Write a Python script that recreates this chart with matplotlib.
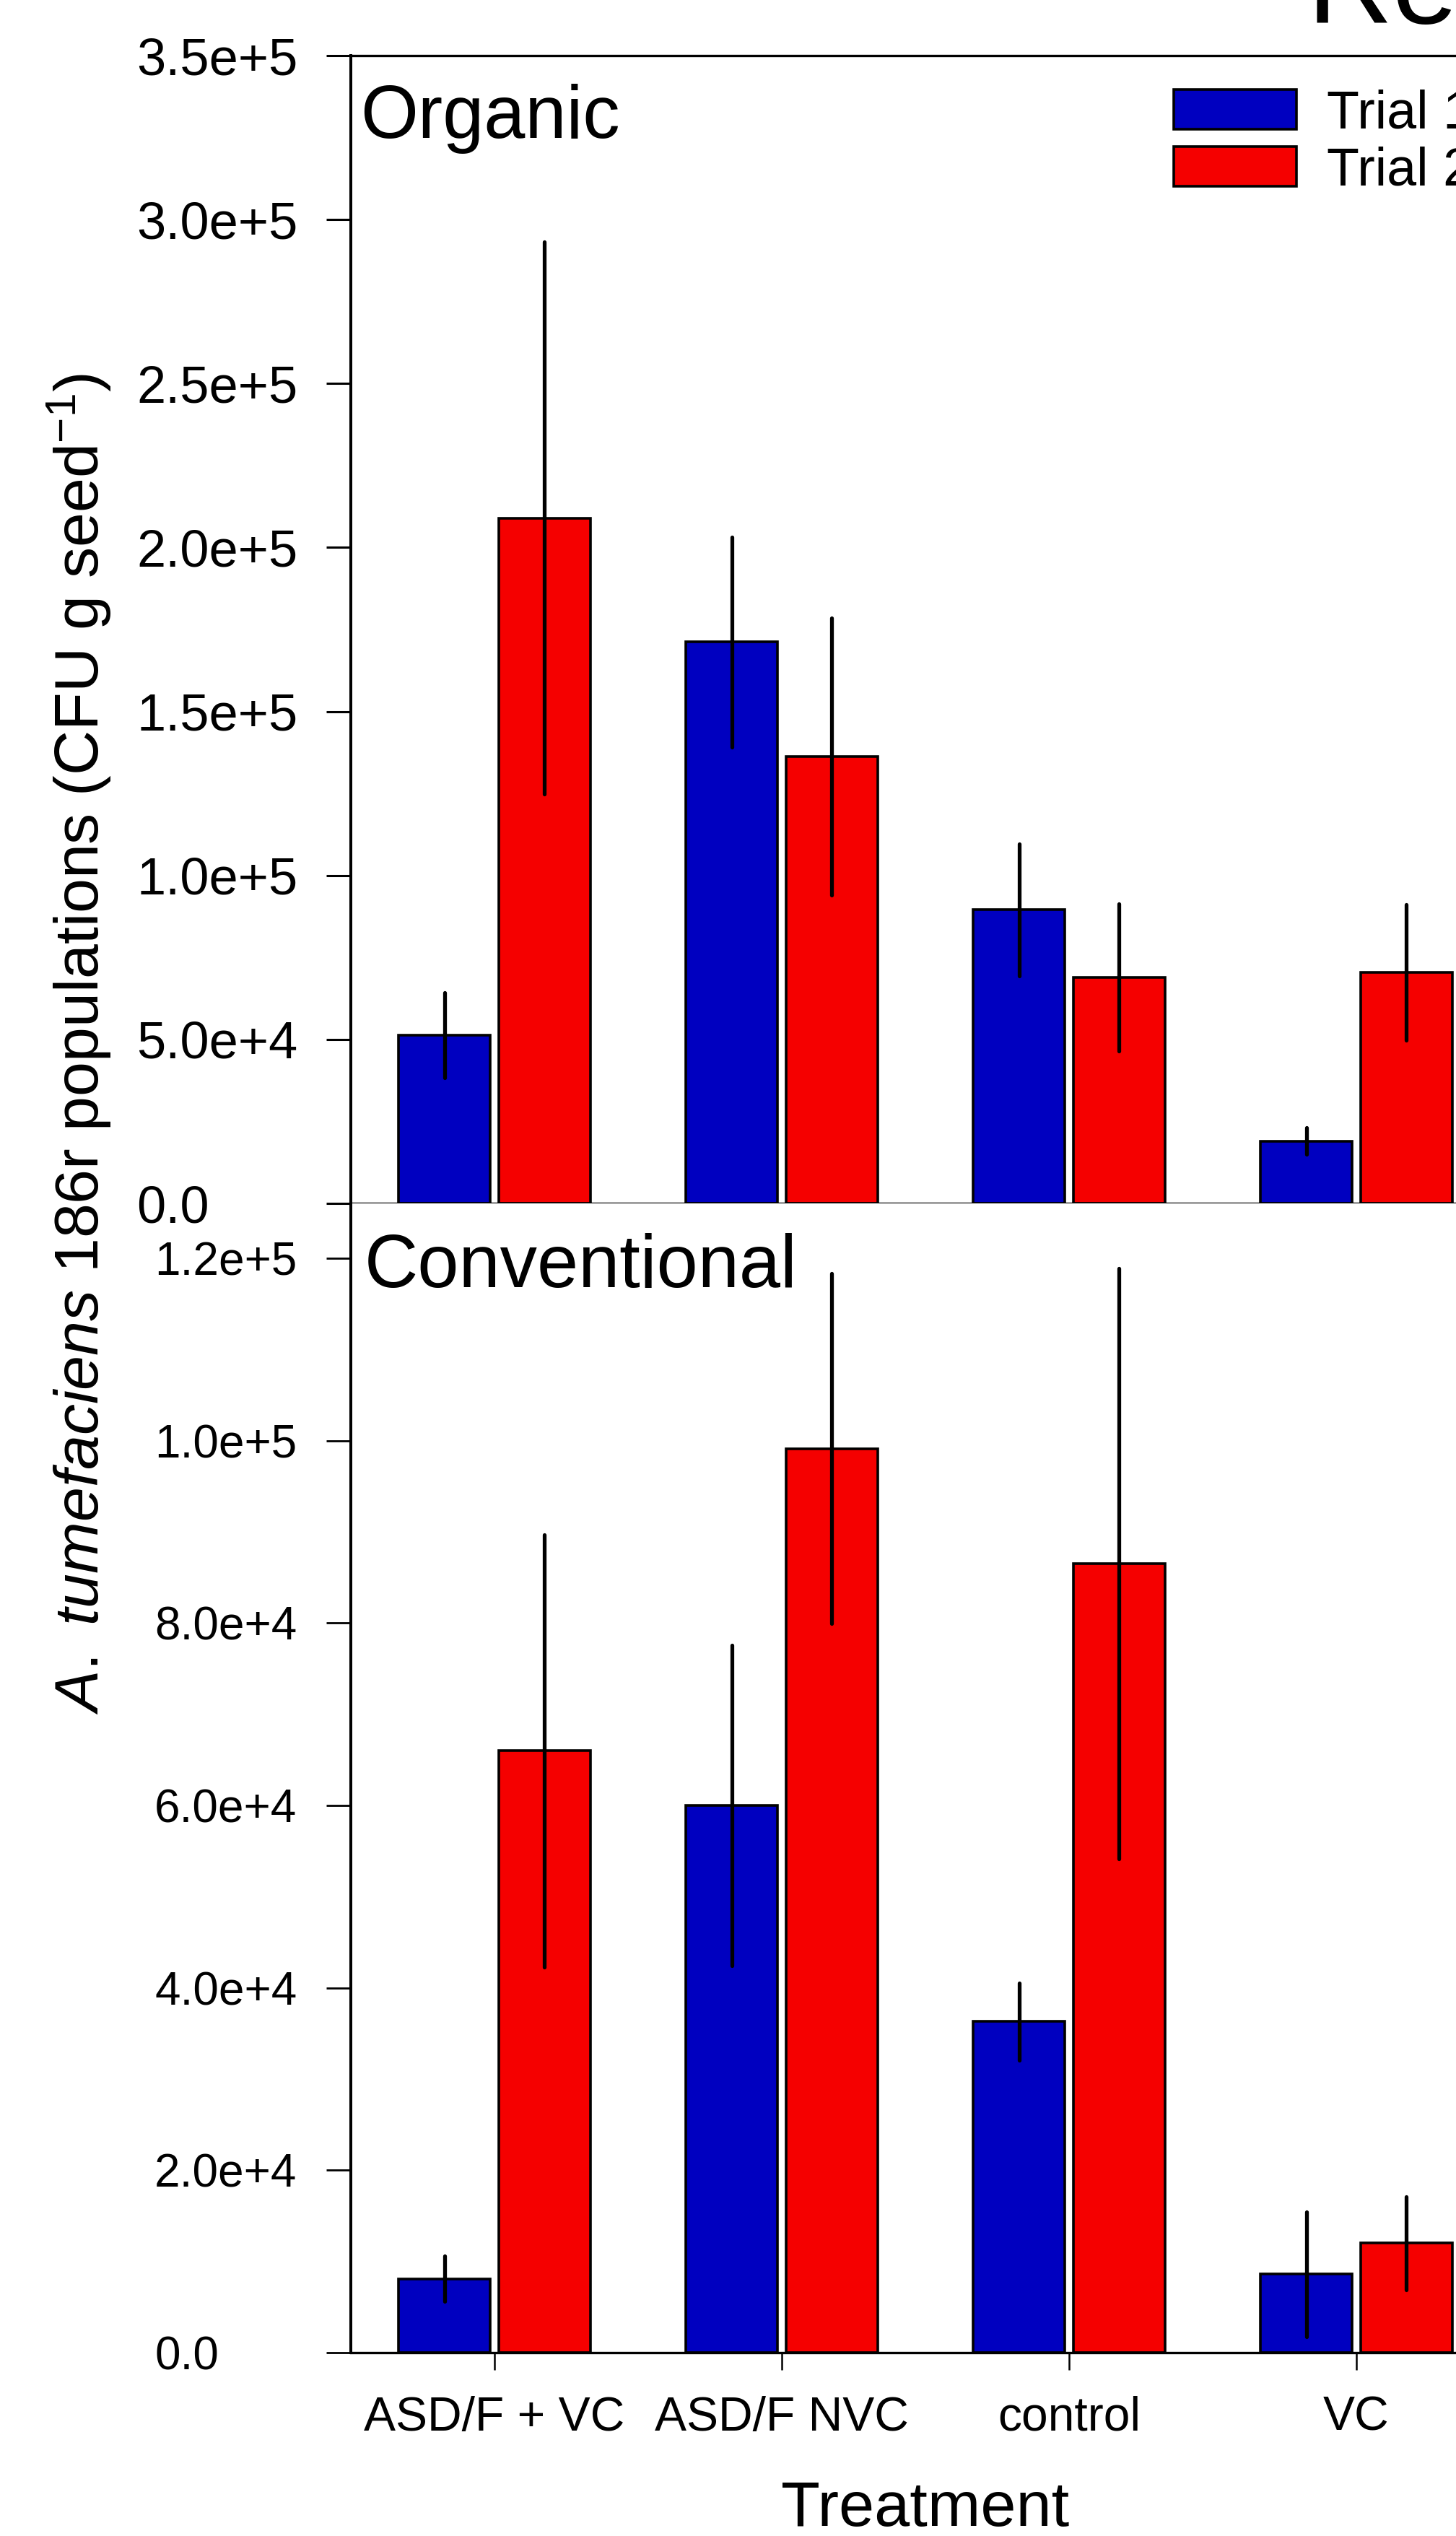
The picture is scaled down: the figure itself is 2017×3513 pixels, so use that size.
import matplotlib
matplotlib.use('Agg')
import matplotlib.pyplot as plt
import numpy as np

plt.rcParams['font.family'] = ['Liberation Sans', 'DejaVu Sans']
plt.rcParams['mathtext.fontset'] = 'custom'
plt.rcParams['mathtext.rm'] = 'Liberation Sans'
plt.rcParams['mathtext.it'] = 'Liberation Sans:italic'
plt.rcParams['mathtext.bf'] = 'Liberation Sans:bold'

# ---------------- data ----------------
treatments = ['ASD/F + VC', 'ASD/F NVC', 'control', 'VC']
series_names = ['Trial 1', 'Trial 2']

organic_trial1 = [51200, 171200, 89500, 19000]
organic_trial1_err = [13000, 32000, 20200, 4100]
organic_trial2 = [209000, 136300, 68900, 70500]
organic_trial2_err = [84100, 42300, 22400, 20700]

conv_trial1 = [8100, 60000, 36300, 8600]
conv_trial1_err = [2500, 17600, 4250, 6850]
conv_trial2 = [66000, 99100, 86500, 12000]
conv_trial2_err = [23700, 19200, 32400, 5100]

organic_ticks = [0, 5e4, 1e5, 1.5e5, 2e5, 2.5e5, 3e5, 3.5e5]
organic_ticklabels = ['0.0', '5.0e+4', '1.0e+5', '1.5e+5', '2.0e+5', '2.5e+5', '3.0e+5', '3.5e+5']
conv_ticks = [0, 2e4, 4e4, 6e4, 8e4, 1e5, 1.2e5]
conv_ticklabels = ['0.0', '2.0e+4', '4.0e+4', '6.0e+4', '8.0e+4', '1.0e+5', '1.2e+5']

# ---------------- layout ----------------
W, H = 2017, 3513
dpi = 100
fig = plt.figure(figsize=(W / dpi, H / dpi), dpi=dpi)


def fx(px):
    return px / W


def fy(py):
    return 1 - py / H


left = fx(486)
width = (2078 - 486) / W
ax1 = fig.add_axes([left, fy(1667), width, (1667 - 77) / H])
ax2 = fig.add_axes([left, fy(3259), width, (3259 - 1667) / H])

x = np.arange(len(treatments))
bw = 0.318
off = 0.174
blue = '#0000C0'
red = '#F50000'

panels = [
    (ax1, organic_trial1, organic_trial1_err, organic_trial2, organic_trial2_err),
    (ax2, conv_trial1, conv_trial1_err, conv_trial2, conv_trial2_err),
]
handles = None
for ax, t1, e1, t2, e2 in panels:
    ekw = dict(ecolor='black', elinewidth=3.8, capsize=0)
    b1 = ax.bar(x - off, t1, bw, yerr=e1, color=blue, edgecolor='black',
                linewidth=2.6, error_kw=ekw, label=series_names[0], zorder=2)
    b2 = ax.bar(x + off, t2, bw, yerr=e2, color=red, edgecolor='black',
                linewidth=2.6, error_kw=ekw, label=series_names[1], zorder=2)
    for b in (b1, b2):
        for lc in b.errorbar.lines[2]:
            lc.set_capstyle('round')
            lc.set_zorder(3)
    if handles is None:
        handles = [b1, b2]
    ax.set_xlim(-0.5, 3.5)
    for s in ax.spines.values():
        s.set_linewidth(2.4)
    ax.spines['left'].set_linewidth(2.9)

ax1.set_ylim(0, 3.5e5)
ax1.set_yticks(organic_ticks)
ax1.set_yticklabels(organic_ticklabels, fontsize=52, ha='left')
ax1.tick_params(axis='y', direction='out', length=24.5, width=2.2, pad=189.3)
ax1.tick_params(axis='x', bottom=False, labelbottom=False)

ax2.set_ylim(0, 1.26e5)
ax2.set_yticks(conv_ticks)
ax2.set_yticklabels(conv_ticklabels, fontsize=46, ha='left')
ax2.tick_params(axis='y', direction='out', length=24.5, width=2.0, pad=171.3)
ax2.set_xticks(x)
ax2.set_xticklabels(treatments, fontsize=47.5)
ax2.tick_params(axis='x', direction='out', length=17, width=1.8, pad=26)
ax2.spines['top'].set_visible(False)
ax2.set_xlabel('Treatment', fontsize=63.5, labelpad=40)

# panel labels
fig.text(fx(499), fy(191), 'Organic', fontsize=74, va='baseline', ha='left')
fig.text(fx(505), fy(1783), 'Conventional', fontsize=74, va='baseline', ha='left')

# title (cut off at the right edge in the original)
fig.text(fx(1810), fy(32), 'Re', fontsize=118, va='baseline', ha='left')

# y label
fig.text(fx(110), fy(1446),
         r'$\mathit{A.\ tumefaciens}$ 186r populations (CFU g seed$^{-1}$)',
         rotation=90, fontsize=62, ha='center', va='center')

# legend
leg = ax1.legend(handles=handles, loc='upper left',
                 bbox_to_anchor=(fx(1626), fy(123)), bbox_transform=fig.transFigure,
                 frameon=False, fontsize=53, handlelength=2.31, handleheight=0.77,
                 handletextpad=0.57, labelspacing=0.136, borderpad=0, borderaxespad=0)
for p in leg.get_patches():
    p.set_linewidth(2.6)

fig.savefig('out.png', dpi=dpi)
